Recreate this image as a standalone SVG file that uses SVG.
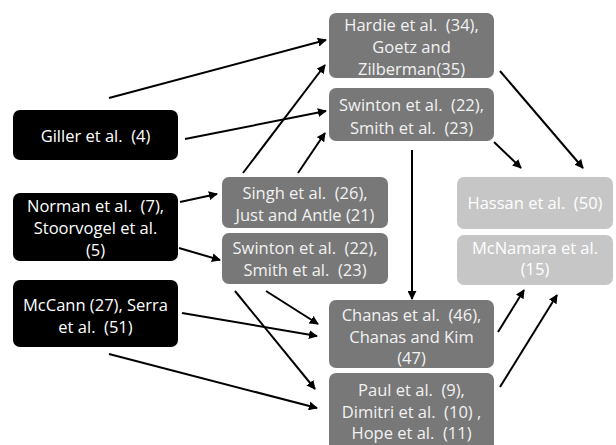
<svg xmlns="http://www.w3.org/2000/svg" width="616" height="445" viewBox="0 0 616 445">
<defs>
<style>
.blk{fill:#000}
.dk{fill:#787878}
.lt{fill:#c6c6c6}
text{font-family:"Open Sans","Liberation Sans",sans-serif;font-size:16.5px;text-anchor:middle;fill:#fff;white-space:pre}
.dt{fill:#f2f2f2}
.e{stroke:#000;stroke-width:2;fill:none;marker-end:url(#ah)}
</style>
<marker id="ah" viewBox="0 0 10 10" refX="9" refY="5" markerWidth="4.5" markerHeight="4.5" orient="auto" markerUnits="strokeWidth">
<path d="M0,0 L10,5 L0,10 z" fill="#000"/>
</marker>
</defs>
<rect width="616" height="445" fill="#fff"/>
<g id="connectors">
<line class="e" x1="109" y1="98" x2="326" y2="40"/>
<line class="e" x1="185" y1="139" x2="326" y2="111"/>
<line class="e" x1="243" y1="173" x2="325" y2="65"/>
<line class="e" x1="298" y1="173" x2="325" y2="133"/>
<line class="e" x1="180" y1="202" x2="217" y2="194"/>
<line class="e" x1="179" y1="248" x2="220" y2="260"/>
<line class="e" x1="182" y1="313" x2="317" y2="336"/>
<line class="e" x1="109" y1="354" x2="317" y2="408"/>
<line class="e" x1="266" y1="291" x2="318" y2="324"/>
<line class="e" x1="235" y1="291" x2="315" y2="389"/>
<line class="e" x1="412" y1="150" x2="412" y2="299"/>
<line class="e" x1="494" y1="142" x2="521" y2="168"/>
<line class="e" x1="500" y1="71" x2="583" y2="168"/>
<line class="e" x1="498" y1="332" x2="524" y2="290"/>
<line class="e" x1="500" y1="387" x2="557" y2="295"/>
</g>
<g id="hardie">
<rect class="dk" x="329" y="13" width="165" height="65" rx="7"/>
<text class="dt" x="411.5" y="31">Hardie et al.  (34),</text>
<text class="dt" x="411.5" y="53">Goetz and</text>
<text class="dt" x="411.5" y="75">Zilberman(35)</text>
</g>
<g id="swinton1">
<rect class="dk" x="329" y="88" width="165" height="53" rx="7"/>
<text class="dt" x="411.5" y="111">Swinton et al.  (22),</text>
<text class="dt" x="411.5" y="134">Smith et al.  (23)</text>
</g>
<g id="giller">
<rect class="blk" x="13" y="110" width="165" height="50" rx="7"/>
<text x="95.5" y="142">Giller et al.  (4)</text>
</g>
<g id="norman">
<rect class="blk" x="13" y="193" width="165" height="68" rx="7"/>
<text x="95.5" y="212">Norman et al.  (7),</text>
<text x="95.5" y="234">Stoorvogel et al.</text>
<text x="95.5" y="256">(5)</text>
</g>
<g id="mccann">
<rect class="blk" x="13" y="280" width="165" height="67" rx="7"/>
<text x="95.5" y="311">McCann (27), Serra</text>
<text x="95.5" y="333">et al.  (51)</text>
</g>
<g id="singh">
<rect class="dk" x="222" y="177" width="166" height="51" rx="7"/>
<text class="dt" x="305" y="199">Singh et al.  (26),</text>
<text class="dt" x="305" y="221">Just and Antle (21)</text>
</g>
<g id="swinton2">
<rect class="dk" x="222" y="233" width="166" height="51" rx="7"/>
<text class="dt" x="305" y="254">Swinton et al.  (22),</text>
<text class="dt" x="305" y="276">Smith et al.  (23)</text>
</g>
<g id="hassan">
<rect class="lt" x="457" y="177" width="156" height="52" rx="7"/>
<text x="535" y="209">Hassan et al.  (50)</text>
</g>
<g id="mcnamara">
<rect class="lt" x="457" y="235" width="156" height="50" rx="7"/>
<text x="535" y="254">McNamara et al.</text>
<text x="535" y="275">(15)</text>
</g>
<g id="chanas">
<rect class="dk" x="329" y="300" width="165" height="68" rx="7"/>
<text class="dt" x="411.5" y="321">Chanas et al.  (46),</text>
<text class="dt" x="411.5" y="343">Chanas and Kim</text>
<text class="dt" x="411.5" y="364">(47)</text>
</g>
<g id="paul">
<rect class="dk" x="329" y="373" width="165" height="80" rx="7"/>
<text class="dt" x="411.5" y="396">Paul et al.  (9),</text>
<text class="dt" x="411.5" y="418">Dimitri et al.  (10) ,</text>
<text class="dt" x="411.5" y="439">Hope et al.  (11)</text>
</g>
</svg>
